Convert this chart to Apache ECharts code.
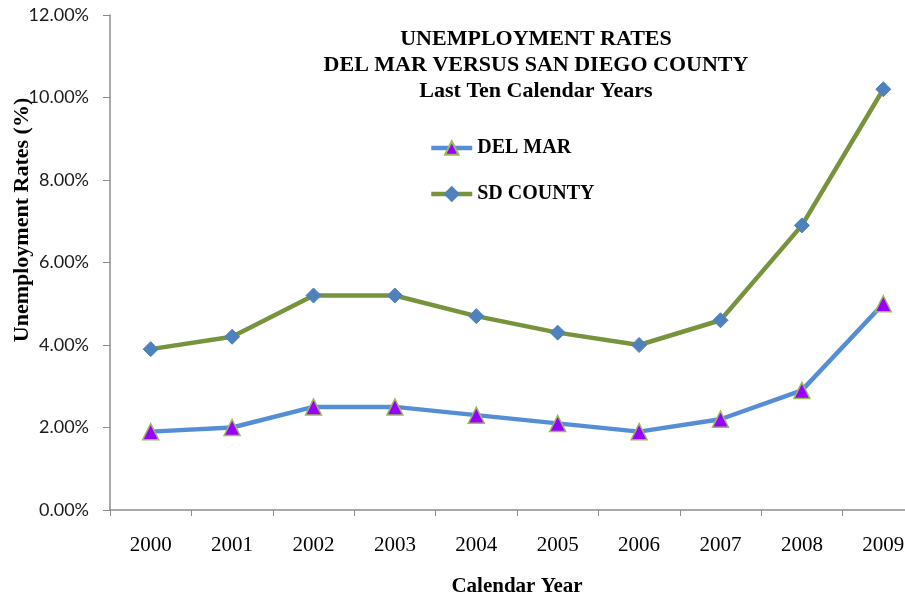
<!DOCTYPE html>
<html>
<head>
<meta charset="utf-8">
<script src="https://cdn.jsdelivr.net/npm/echarts@6/dist/echarts.min.js"></script>
<style>
  html, body { margin: 0; padding: 0; background: #fff; overflow: hidden; }
  #chart { width: 905px; height: 597px; }
</style>
</head>
<body>
<div id="chart"></div>
<script>
// Unemployment rates, Del Mar vs San Diego County, 2000-2009
const years = ['2000', '2001', '2002', '2003', '2004', '2005', '2006', '2007', '2008', '2009'];
const delMar = [1.9, 2.0, 2.5, 2.5, 2.3, 2.1, 1.9, 2.2, 2.9, 5.0];
const sdCounty = [3.9, 4.2, 5.2, 5.2, 4.7, 4.3, 4.0, 4.6, 6.9, 10.2];
const yTicks = [0, 2, 4, 6, 8, 10, 12];

const serif = '"Palatino Linotype", "Book Antiqua", "Liberation Serif", serif';
const sans = 'Lato, "Liberation Sans", sans-serif';

const chart = echarts.init(document.getElementById('chart'));
chart.setOption({
  animation: false,
  backgroundColor: '#ffffff',
  title: {
    text: 'UNEMPLOYMENT RATES\nDEL MAR VERSUS SAN DIEGO COUNTY\nLast Ten Calendar Years',
    left: 531,
    top: 21,
    textAlign: 'center',
    textStyle: {
      fontFamily: serif,
      fontWeight: 'bold',
      fontSize: 22,
      lineHeight: 26,
      color: '#000'
    }
  },
  legend: {
    orient: 'vertical',
    left: 429,
    top: 138,
    padding: 0,
    itemGap: 26,
    itemWidth: 41,
    itemHeight: 17,
    lineStyle: { width: 4.5 },
    textStyle: { fontFamily: serif, fontWeight: 'bold', fontSize: 20, color: '#000' },
    data: ['DEL MAR', 'SD COUNTY']
  },
  // plot area runs past the right edge of the canvas
  grid: { left: 110, top: 15, width: 814, height: 495, containLabel: false, outerBoundsMode: 'none' },
  xAxis: {
    type: 'category',
    data: years,
    boundaryGap: true,
    name: 'Calendar Year',
    nameLocation: 'middle',
    nameGap: 66,
    nameTextStyle: { fontFamily: serif, fontWeight: 'bold', fontSize: 21, color: '#000' },
    axisLine: { lineStyle: { color: '#8c8c8c', width: 1.5 } },
    axisTick: { show: true, length: 6, lineStyle: { color: '#8c8c8c' } },
    axisLabel: { margin: 25, fontFamily: serif, fontSize: 21, color: '#000' },
    splitLine: { show: false }
  },
  yAxis: {
    type: 'value',
    min: yTicks[0],
    max: yTicks[yTicks.length - 1],
    interval: 2,
    axisLine: { show: true, lineStyle: { color: '#8c8c8c', width: 1.5 } },
    axisTick: { show: true, inside: false, length: 7, lineStyle: { color: '#8c8c8c' } },
    axisLabel: {
      margin: 21,
      fontFamily: sans,
      fontSize: 18,
      color: '#1a1a1a',
      formatter: v => v.toFixed(2) + '%'
    },
    splitLine: { show: false }
  },
  graphic: [{
    type: 'text',
    x: 22,
    y: 220,
    rotation: Math.PI / 2,
    style: {
      text: 'Unemployment Rates (%)',
      font: 'bold 22px ' + serif,
      fill: '#000',
      align: 'center',
      verticalAlign: 'middle'
    }
  }],
  series: [
    {
      name: 'DEL MAR',
      type: 'line',
      data: delMar,
      symbol: 'triangle',
      symbolSize: 16,
      lineStyle: { color: '#558ed5', width: 4.5 },
      itemStyle: { color: '#9900ff', borderColor: '#9bbb59', borderWidth: 1.5 },
      z: 3
    },
    {
      name: 'SD COUNTY',
      type: 'line',
      data: sdCounty,
      symbol: 'diamond',
      symbolSize: 15,
      lineStyle: { color: '#77933c', width: 4.5 },
      itemStyle: { color: '#4f81bd', borderColor: '#4f81bd', borderWidth: 1 },
      z: 2
    }
  ]
});
</script>
</body>
</html>
